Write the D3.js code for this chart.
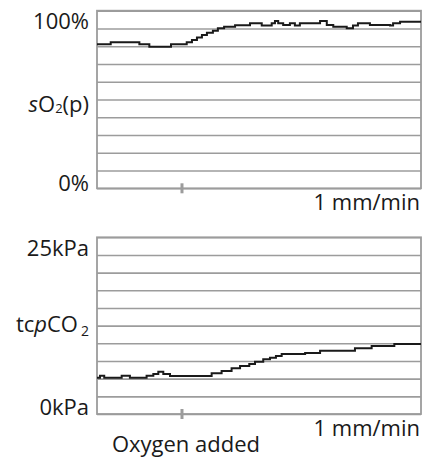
<!DOCTYPE html>
<html>
<head>
<meta charset="utf-8">
<script src="https://cdn.jsdelivr.net/npm/d3@7"></script>
<style>
  html, body { margin: 0; padding: 0; background: #fff; }
  svg { display: block; }
  text { font-family: "Open Sans", "Noto Sans", sans-serif; fill: #1a1a1a; }
</style>
</head>
<body>
<svg id="chart" width="424" height="461"></svg>
<script>
// Time axis of both traces, in minutes from start of recording
const timeSpan = [0, 13];
const oxygenAddedAt = 3.41;

// sO2(p) trace: step times (min) and saturation (%)
const so2Times = [0, 0.55, 1.70, 2.10, 2.97, 3.60, 3.81, 4.01, 4.21, 4.41, 4.65, 4.85, 5.10, 5.54,
  6.14, 6.61, 7.01, 7.14, 7.27, 7.47, 7.74, 7.94, 8.14, 8.95, 9.22, 9.48, 10.02, 10.27, 10.47,
  10.95, 11.76, 11.88, 12.16, 13.0];
const so2Values = [81.1, 82.2, 81.1, 79.7, 81.1, 82.2, 83.5, 84.9, 86.3, 87.6, 88.7, 90.1, 91.0, 91.8,
  92.9, 91.6, 92.9, 94.2, 92.9, 91.9, 92.9, 91.6, 92.9, 94.2, 91.9, 91.0, 90.1, 91.6, 92.9,
  91.9, 91.6, 92.9, 93.8, 93.8];

// tcpCO2 trace: step times (min) and partial pressure (kPa)
const co2Times = [0, 0.12, 0.29, 0.99, 1.32, 1.99, 2.26, 2.46, 2.66, 2.93, 4.60, 5.00, 5.40, 5.74,
  6.11, 6.34, 6.67, 6.94, 7.18, 7.41, 8.35, 8.95, 10.35, 11.02, 11.93, 13.0];
const co2Values = [5.14, 5.42, 5.14, 5.42, 5.14, 5.42, 5.66, 5.98, 5.66, 5.38, 5.76, 6.08, 6.47, 6.79,
  7.07, 7.40, 7.74, 7.97, 8.21, 8.49, 8.62, 8.96, 9.30, 9.62, 9.90, 9.90];

// Grid levels
const so2Grid = d3.range(0, 101, 10);
const co2Grid = d3.range(0, 25.01, 2.5);

const svg = d3.select("#chart");
const left = 97, right = 421;
const x = d3.scaleLinear().domain(timeSpan).range([left, right]);

const gridColor = "#9c9c9c";
const traceColor = "#1a1a1a";

function panel(cfg) {
  const y = d3.scaleLinear().domain(cfg.domain).range([cfg.bottom, cfg.top]);
  const g = svg.append("g");

  // horizontal grid lines
  const grid = g.append("g")
    .attr("transform", `translate(${left},0)`)
    .call(d3.axisLeft(y).tickValues(cfg.grid).tickSize(-(right - left)).tickFormat(""));
  grid.select(".domain").remove();
  grid.selectAll(".tick line").attr("stroke", gridColor).attr("stroke-width", 1.6);

  // frame
  g.append("rect")
    .attr("x", left).attr("y", cfg.top)
    .attr("width", right - left).attr("height", cfg.bottom - cfg.top)
    .attr("fill", "none").attr("stroke", gridColor).attr("stroke-width", 1.8);

  // event marker on the time axis
  g.append("line")
    .attr("x1", x(oxygenAddedAt)).attr("x2", x(oxygenAddedAt))
    .attr("y1", cfg.bottom - 5).attr("y2", cfg.bottom + 5)
    .attr("stroke", gridColor).attr("stroke-width", 3);

  // trace
  const pts = cfg.times.map((t, i) => [t, cfg.values[i]]);
  const line = d3.line().x(d => x(d[0])).y(d => y(d[1])).curve(d3.curveStepAfter);
  g.append("path").datum(pts)
    .attr("d", line)
    .attr("fill", "none").attr("stroke", traceColor)
    .attr("stroke-width", 2).attr("stroke-linejoin", "miter");

  // scale labels
  g.append("text").attr("x", 89).attr("y", y(cfg.domain[1]) + 18.5)
    .attr("text-anchor", "end").attr("font-size", 22).text(cfg.maxLabel);
  g.append("text").attr("x", 89).attr("y", y(cfg.domain[0]) + cfg.minOffset)
    .attr("text-anchor", "end").attr("font-size", 22).text(cfg.minLabel);

  // paper speed
  g.append("text").attr("x", 420).attr("y", cfg.bottom + 21.5)
    .attr("text-anchor", "end").attr("font-size", 22).text("1 mm/min");

  return { g, y };
}

const so2Panel = panel({
  domain: [0, 100], top: 10.7, bottom: 188.3, grid: so2Grid,
  times: so2Times, values: so2Values,
  maxLabel: "100%", minLabel: "0%", minOffset: 3
});

const co2Panel = panel({
  domain: [0, 25], top: 237.3, bottom: 414, grid: co2Grid,
  times: co2Times, values: co2Values,
  maxLabel: "25kPa", minLabel: "0kPa", minOffset: 1
});

// sO2(p) label
const so2Label = so2Panel.g.append("text").attr("x", 89).attr("y", 111.5)
  .attr("text-anchor", "end").attr("font-size", 22);
so2Label.append("tspan").attr("font-style", "italic").text("s");
so2Label.append("tspan").text("O");
so2Label.append("tspan").attr("font-size", 13).attr("dy", 1.5).text("2");
so2Label.append("tspan").attr("dy", -1.5).text("(p)");

// tcpCO2 label
const co2Label = co2Panel.g.append("text").attr("x", 89).attr("y", 331.5)
  .attr("text-anchor", "end").attr("font-size", 22);
co2Label.append("tspan").text("tc");
co2Label.append("tspan").attr("font-style", "italic").text("p");
co2Label.append("tspan").text("CO");
co2Label.append("tspan").attr("font-size", 14).attr("dx", 3).attr("dy", 4).text("2");

// event annotation
svg.append("text").attr("x", x(oxygenAddedAt) + 4).attr("y", 452)
  .attr("text-anchor", "middle").attr("font-size", 22).text("Oxygen added");
</script>
</body>
</html>
